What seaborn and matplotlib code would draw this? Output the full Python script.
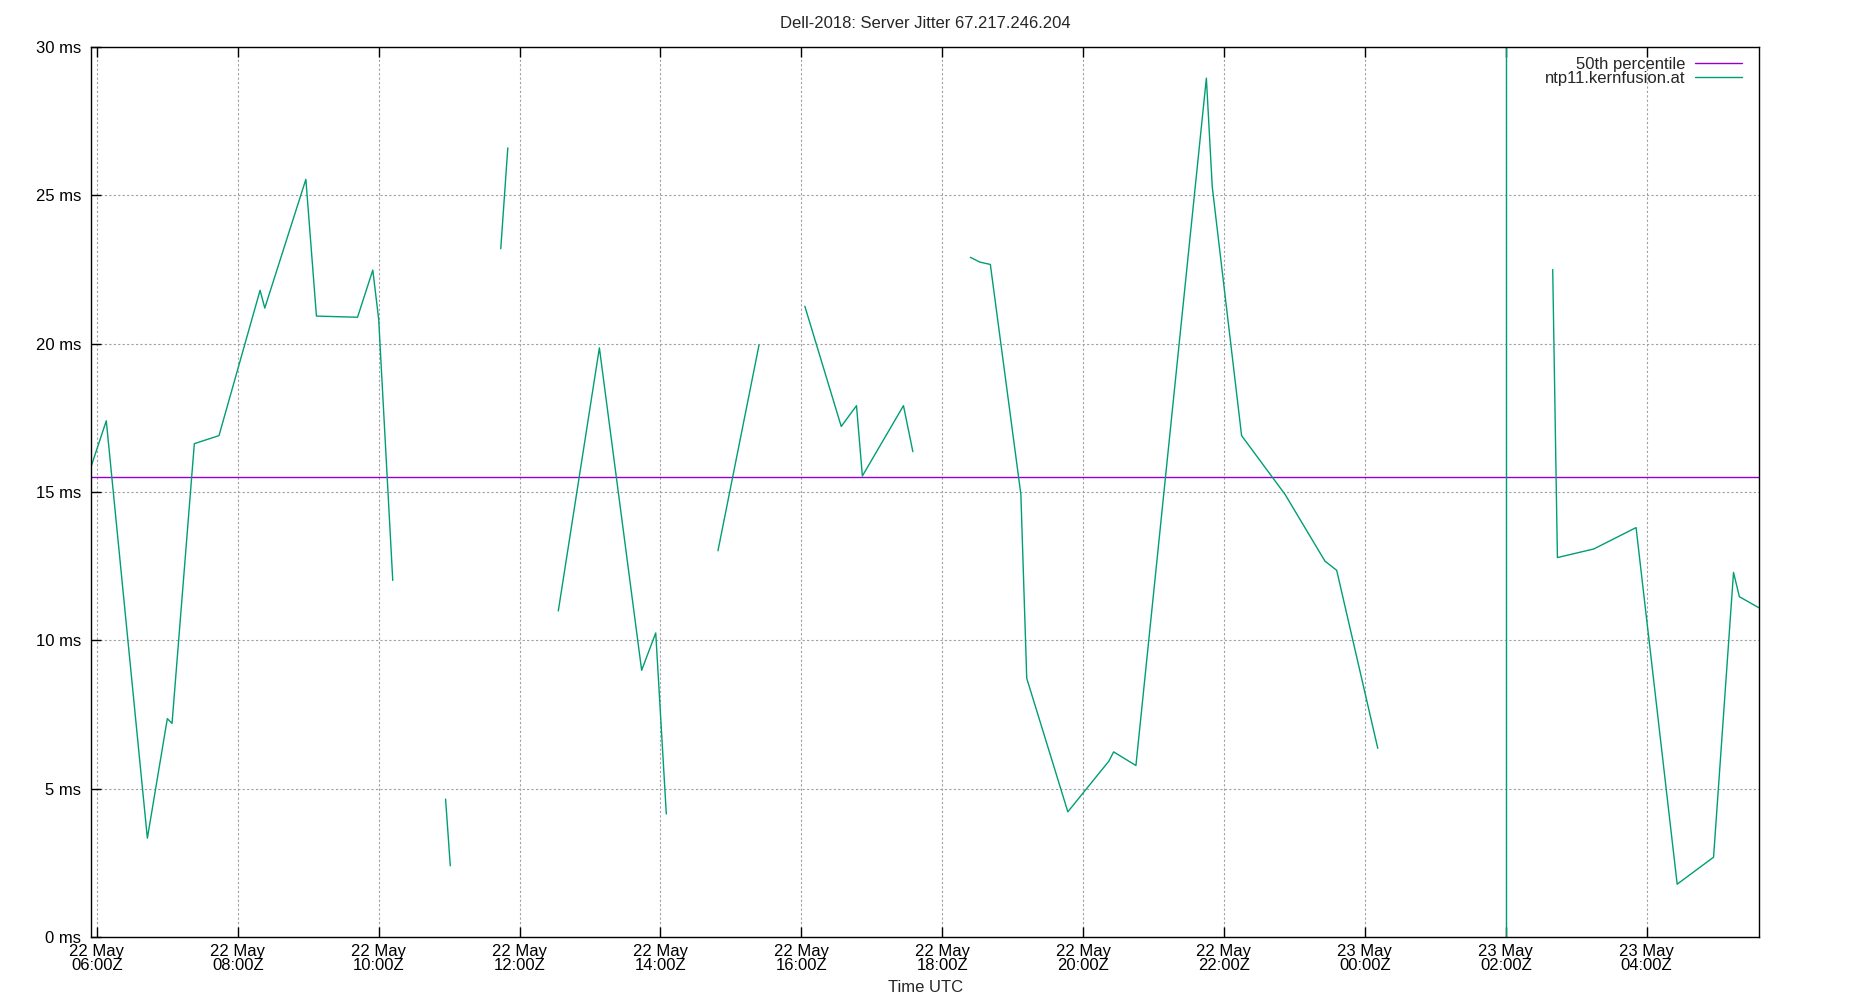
import pandas as pd
import seaborn as sns
import matplotlib
matplotlib.use("Agg")
import matplotlib.pyplot as plt
import matplotlib.dates as mdates
from matplotlib.lines import Line2D

# jitter samples for ntp11.kernfusion.at (UTC)
times = [
    "2018-05-22 05:55", "2018-05-22 06:08", "2018-05-22 06:43", "2018-05-22 07:00",
    "2018-05-22 07:04", "2018-05-22 07:23", "2018-05-22 07:44", "2018-05-22 08:19",
    "2018-05-22 08:23", "2018-05-22 08:58", "2018-05-22 09:07", "2018-05-22 09:42",
    "2018-05-22 09:55", "2018-05-22 10:00", "2018-05-22 10:12",
    "2018-05-22 10:57", "2018-05-22 11:01",
    "2018-05-22 11:44", "2018-05-22 11:50",
    "2018-05-22 12:33", "2018-05-22 13:08", "2018-05-22 13:44", "2018-05-22 13:56",
    "2018-05-22 14:05",
    "2018-05-22 14:49", "2018-05-22 15:24",
    "2018-05-22 16:03", "2018-05-22 16:34", "2018-05-22 16:47", "2018-05-22 16:52",
    "2018-05-22 17:27", "2018-05-22 17:35",
    "2018-05-22 18:24", "2018-05-22 18:32", "2018-05-22 18:41", "2018-05-22 19:07",
    "2018-05-22 19:12", "2018-05-22 19:47", "2018-05-22 20:22", "2018-05-22 20:26",
    "2018-05-22 20:45", "2018-05-22 21:45", "2018-05-22 21:50", "2018-05-22 22:15",
    "2018-05-22 22:52", "2018-05-22 23:26", "2018-05-22 23:36", "2018-05-23 00:11",
    "2018-05-23 02:00", "2018-05-23 02:00",
    "2018-05-23 02:40", "2018-05-23 02:44", "2018-05-23 03:15", "2018-05-23 03:51",
    "2018-05-23 04:26", "2018-05-23 04:57", "2018-05-23 05:14", "2018-05-23 05:19",
    "2018-05-23 05:36",
]
jitter = [
    15.85, 17.40, 3.33, 7.36, 7.20, 16.63, 16.90, 21.80, 21.20, 25.54, 20.93, 20.89,
    22.48, 20.83, 12.02,
    4.65, 2.40,
    23.20, 26.60,
    10.99, 19.86, 8.99, 10.25, 4.15,
    13.02, 19.96,
    21.26, 17.21, 17.91, 15.54, 17.91, 16.36,
    22.91, 22.75, 22.67, 14.92, 8.72, 4.22, 5.93, 6.24, 5.78, 28.95, 25.29, 16.90,
    14.92, 12.67, 12.36, 6.36,
    0.0, 60.0,
    22.50, 12.79, 13.08, 13.80, 1.78, 2.69, 12.29, 11.47, 11.09,
]
# connected runs of samples (gaps between them are not drawn)
segment = (
    [0] * 15 + [1] * 2 + [2] * 2 + [3] * 5 + [4] * 2 + [5] * 6
    + [6] * 16 + [7] * 2 + [8] * 9
)
median_ms = 15.52

ytick_vals = [0, 5, 10, 15, 20, 25, 30]
ytick_labels = ["0 ms", "5 ms", "10 ms", "15 ms", "20 ms", "25 ms", "30 ms"]

df = pd.DataFrame({"time": pd.to_datetime(times), "jitter": jitter, "segment": segment})

sns.set_style("ticks")
plt.rcParams["font.family"] = ["Liberation Sans", "DejaVu Sans"]

purple = "#9400d3"
green = "#009e73"

fig, ax = plt.subplots(figsize=(18.5, 10), dpi=100)
fig.subplots_adjust(left=0.0492, right=0.951, bottom=0.063, top=0.953)

ax.axhline(median_ms, color=purple, lw=1)
sns.lineplot(data=df, x="time", y="jitter", units="segment", estimator=None,
             sort=False, color=green, lw=1, ax=ax)

ax.set_xlim(df["time"].min(), df["time"].max())
ax.set_ylim(0, 30)
ax.set_yticks(ytick_vals)
ax.set_yticklabels(ytick_labels)
ax.xaxis.set_major_locator(mdates.HourLocator(byhour=range(0, 24, 2)))
ax.xaxis.set_major_formatter(mdates.DateFormatter("%d %b\n%H:%MZ"))
for lab in ax.get_xticklabels():
    lab.set_linespacing(0.95)

ax.grid(True, color="#a0a0a0", lw=0.8, ls=(0, (2, 2)))
ax.tick_params(axis="x", direction="in", top=True, bottom=True, length=7,
               width=1, labelsize=12, pad=5, colors="black")
ax.tick_params(axis="y", direction="in", left=True, right=False, length=7,
               width=1, labelsize=12, pad=7, colors="black")
for sp in ax.spines.values():
    sp.set_visible(True)
    sp.set_color("black")
    sp.set_linewidth(1)

ax.set_xlabel("Time UTC", fontsize=12, labelpad=5)
ax.set_ylabel("")
fig.suptitle("Dell-2018: Server Jitter 67.217.246.204", fontsize=12, y=0.977, va="center")

handles = [Line2D([], [], color=purple, lw=1), Line2D([], [], color=green, lw=1)]
ax.legend(handles, ["50th percentile", "ntp11.kernfusion.at"], loc="upper right",
          bbox_to_anchor=(0.9894, 0.9893), frameon=False, markerfirst=False,
          fontsize=12, handlelength=2.8, handletextpad=0.6, labelspacing=-0.055,
          borderaxespad=0, borderpad=0)

fig.savefig("out.png", dpi=100)
